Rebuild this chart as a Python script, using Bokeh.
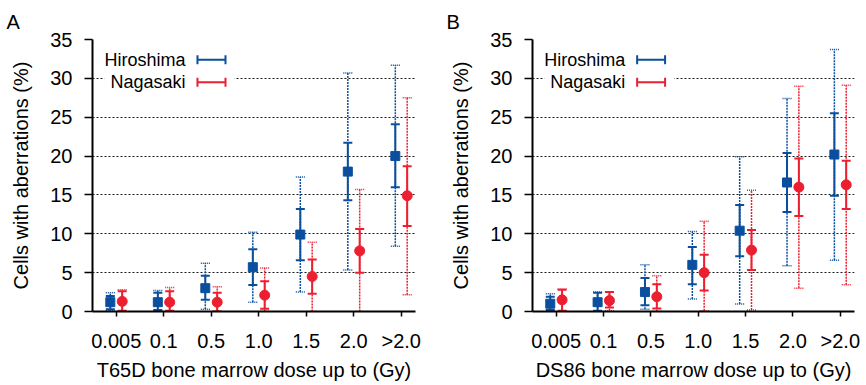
import numpy as np
from bokeh.plotting import figure
from bokeh.layouts import row
from bokeh.models import ColumnDataSource, FixedTicker, Range1d, Label, BoxAnnotation
from bokeh.transform import dodge
from bokeh.embed import file_html
from bokeh.resources import INLINE

# ---------------- data ----------------
DOSE_LABELS = ["0.005", "0.1", "0.5", "1.0", "1.5", "2.0", ">2.0"]
Y_TICKS = [0, 5, 10, 15, 20, 25, 30, 35]

# Panel A (T65D)
A_H_MEAN = [1.2, 1.2, 3.0, 5.7, 9.9, 18.0, 20.0]
A_H_LO = [0.3, 0.2, 1.5, 3.4, 6.6, 14.3, 16.0]
A_H_HI = [2.0, 2.4, 4.6, 8.0, 13.2, 21.7, 24.1]
A_H_LO2 = [0.1, 0.1, 0.3, 1.2, 2.5, 5.35, 8.4]
A_H_HI2 = [2.4, 2.7, 6.2, 10.2, 17.3, 30.7, 31.7]

A_N_MEAN = [1.3, 1.2, 1.2, 2.1, 4.5, 7.8, 14.9]
A_N_LO = [0.1, 0.1, 0.0, 0.35, 2.3, 5.0, 11.0]
A_N_HI = [2.6, 2.6, 2.4, 3.9, 6.7, 10.6, 18.7]
A_N_LO2 = [0.0, 0.0, 0.0, 0.0, 0.0, 0.0, 2.15]
A_N_HI2 = [2.8, 3.1, 3.2, 5.6, 8.9, 15.7, 27.5]

# Panel B (DS86)
B_H_MEAN = [1.0, 1.2, 2.5, 6.0, 10.4, 16.6, 20.2]
B_H_LO = [0.2, 0.1, 0.8, 3.5, 7.1, 12.8, 14.9]
B_H_HI = [1.9, 2.4, 4.3, 8.3, 13.7, 20.4, 25.5]
B_H_LO2 = [0.0, 0.0, 0.3, 1.6, 0.95, 5.9, 6.6]
B_H_HI2 = [2.3, 2.5, 6.0, 10.3, 19.9, 27.4, 33.7]

B_N_MEAN = [1.5, 1.4, 1.9, 5.0, 7.9, 16.0, 16.3]
B_N_LO = [0.1, 0.5, 0.4, 2.7, 5.35, 12.3, 13.2]
B_N_HI = [2.8, 2.5, 3.5, 7.3, 10.5, 19.7, 19.4]
B_N_LO2 = [0.0, 0.1, 0.0, 0.1, 0.2, 3.0, 3.45]
B_N_HI2 = [2.9, 2.5, 4.6, 11.6, 15.6, 29.0, 29.1]

# ---------------- style ----------------
BLUE = "#0a4f9e"
RED = "#ec1f30"
FONT = "Liberation Sans"
DOTTED = "2 1"


def add_series(p, mean, lo, hi, lo2, hi2, color, offset, marker, size):
    src = ColumnDataSource(dict(idx=list(range(len(mean))), mean=mean,
                                lo=lo, hi=hi, lo2=lo2, hi2=hi2))
    x = dodge("idx", offset)
    # wide interval (dotted)
    p.segment(x0=x, y0="lo2", x1=x, y1="hi2", source=src, line_color=color,
              line_width=1.5, line_dash=DOTTED)
    for col in ("lo2", "hi2"):
        p.scatter(x=x, y=col, source=src, marker="dash", size=9,
                  line_color=color, line_width=1.5, line_dash="1 1")
    # narrow interval (solid)
    p.segment(x0=x, y0="lo", x1=x, y1="hi", source=src, line_color=color,
              line_width=2)
    for col in ("lo", "hi"):
        p.scatter(x=x, y=col, source=src, marker="dash", size=9,
                  line_color=color, line_width=2)
    p.scatter(x=x, y="mean", source=src, marker=marker, size=size,
              fill_color=color, line_color=color)


def make_panel(letter, xlabel, H, N, width, border_right):
    p = figure(width=width, height=385, output_backend="svg",
               toolbar_location=None, x_range=Range1d(-0.5, 6.3),
               y_range=Range1d(0, 35), min_border_left=92,
               min_border_right=border_right, min_border_top=39,
               min_border_bottom=74, title=letter)
    p.title.text_font = FONT
    p.title.text_font_size = "20px"
    p.title.text_font_style = "normal"
    p.title.text_color = "black"
    p.title.align = "left"
    p.title.vertical_align = "top"
    p.title.offset = -86
    p.title.standoff = 10

    p.outline_line_color = None
    p.background_fill_color = "white"
    p.border_fill_color = "white"

    p.xgrid.visible = False
    p.ygrid.ticker = FixedTicker(ticks=Y_TICKS)
    p.ygrid.grid_line_color = "black"
    p.ygrid.grid_line_dash = "2 2"
    p.ygrid.grid_line_width = 1
    p.ygrid.grid_line_alpha = 0.9

    p.yaxis.ticker = FixedTicker(ticks=Y_TICKS)
    p.xaxis.ticker = FixedTicker(ticks=list(range(len(DOSE_LABELS))))
    p.xaxis.major_label_overrides = {i: s for i, s in enumerate(DOSE_LABELS)}

    for ax in (p.xaxis, p.yaxis):
        ax.axis_line_width = 2
        ax.axis_line_color = "black"
        ax.major_tick_line_width = 1.5
        ax.major_tick_line_color = "black"
        ax.major_tick_in = 0
        ax.minor_tick_line_color = None
        ax.major_label_text_font = FONT
        ax.major_label_text_font_size = "20px"
        ax.major_label_text_color = "black"
        ax.axis_label_text_font = FONT
        ax.axis_label_text_font_size = "20px"
        ax.axis_label_text_font_style = "normal"
        ax.axis_label_text_color = "black"
    p.yaxis.major_tick_out = 8
    p.yaxis.major_label_standoff = 12
    p.yaxis.axis_label_standoff = 15
    p.xaxis.major_tick_out = 5
    p.xaxis.major_label_standoff = 13
    p.xaxis.axis_label_standoff = 4
    p.yaxis.axis_label = "Cells with aberrations (%)"
    p.xaxis.axis_label = xlabel

    add_series(p, *H, color=BLUE, offset=-0.125, marker="square", size=9)
    add_series(p, *N, color=RED, offset=0.125, marker="circle", size=10)

    # legend (label left of the glyph, as in the original)
    p.add_layout(BoxAnnotation(left=-0.25, right=2.49, bottom=27.6, top=34.0,
                               fill_color="white", fill_alpha=1.0,
                               line_color=None, level="underlay"))
    for name, color, ly in (("Hiroshima", BLUE, 32.4), ("Nagasaki", RED, 29.5)):
        p.add_layout(Label(x=1.46, y=ly, text=name, text_align="right",
                           text_baseline="middle", text_font=FONT,
                           text_font_size="18px", text_color="black"))
        p.segment(x0=[1.71], y0=[ly], x1=[2.30], y1=[ly], line_color=color,
                  line_width=2)
        p.scatter(x=[1.71, 2.30], y=[ly, ly], marker="dash", angle=np.pi / 2,
                  size=9, line_color=color, line_width=2)
    return p


pA = make_panel("A", "T65D bone marrow dose up to (Gy)",
                (A_H_MEAN, A_H_LO, A_H_HI, A_H_LO2, A_H_HI2),
                (A_N_MEAN, A_N_LO, A_N_HI, A_N_LO2, A_N_HI2), 440, 25)
pB = make_panel("B", "DS86 bone marrow dose up to (Gy)",
                (B_H_MEAN, B_H_LO, B_H_HI, B_H_LO2, B_H_HI2),
                (B_N_MEAN, B_N_LO, B_N_HI, B_N_LO2, B_N_HI2), 426, 12)

layout = row(pA, pB)
open("out.html", "w").write(file_html(layout, INLINE))
